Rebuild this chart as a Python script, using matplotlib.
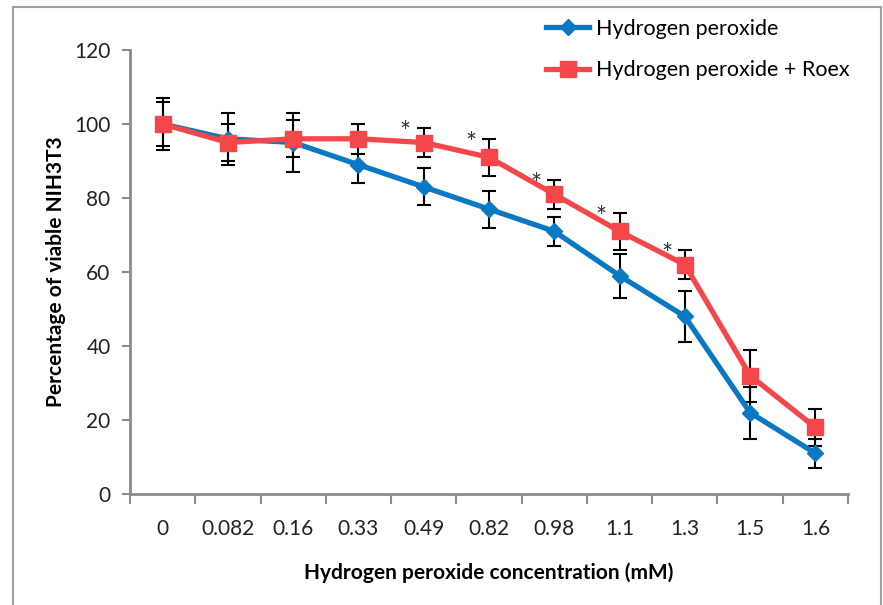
import matplotlib
matplotlib.use('Agg')
from matplotlib import pyplot as plt
from matplotlib.patches import Rectangle

plt.rcParams['font.family'] = ['Lato', 'DejaVu Sans']

concentracoes = ['0', '0.082', '0.16', '0.33', '0.49', '0.82', '0.98', '1.1', '1.3', '1.5', '1.6']
h2o2 = [100, 96, 95, 89, 83, 77, 71, 59, 48, 22, 11]
h2o2_erro = [6, 7, 8, 5, 5, 5, 4, 6, 7, 7, 4]
h2o2_roex = [100, 95, 96, 96, 95, 91, 81, 71, 62, 32, 18]
h2o2_roex_erro = [7, 5, 5, 4, 4, 5, 4, 5, 4, 7, 5]
significativos = [4, 5, 6, 7, 8]

azul = '#0a78c2'
vermelho = '#f4474a'
cinza = '#8c8c8c'

fig = plt.figure(figsize=(8.83, 6.05), dpi=100)
ax = fig.add_axes([130/883, 1 - 494/605, (848 - 130)/883, (494 - 50)/605])

x = list(range(len(concentracoes)))

ax.errorbar(x, h2o2, yerr=h2o2_erro, fmt='none', ecolor='black', elinewidth=1.5,
            capsize=5, capthick=1.5, zorder=2)
ax.errorbar(x, h2o2_roex, yerr=h2o2_roex_erro, fmt='none', ecolor='black', elinewidth=1.5,
            capsize=5, capthick=1.5, zorder=2)
ax.plot(x, h2o2, color=azul, lw=3.8, marker='D', ms=8, label='Hydrogen peroxide', zorder=3)
ax.plot(x, h2o2_roex, color=vermelho, lw=3.8, marker='s', ms=12, label='Hydrogen peroxide + Roex', zorder=4)

# asteriscos de significancia
for i in significativos:
    ax.text(i - 0.28, h2o2_roex[i] + h2o2_roex_erro[i] - 1.5, '*', fontsize=19,
            ha='center', va='center', color='#333333', zorder=5)

ax.set_xlim(-0.5, len(concentracoes) - 0.5)
ax.set_ylim(0, 120)
ax.set_yticks(range(0, 121, 20))
ax.set_xticks([i - 0.5 for i in range(len(concentracoes) + 1)])
ax.set_xticklabels([])
ax.set_xticks(x, minor=True)
ax.set_xticklabels(concentracoes, minor=True)
ax.tick_params(axis='x', which='major', length=7, width=1.5, color=cinza, direction='out')
ax.tick_params(axis='x', which='minor', length=0, pad=18, labelsize=15, labelcolor='#222222')
ax.tick_params(axis='y', length=6, width=1.5, color=cinza, labelsize=15, labelcolor='#222222', pad=8)

for lado in ['top', 'right']:
    ax.spines[lado].set_visible(False)
for lado in ['left', 'bottom']:
    ax.spines[lado].set_color(cinza)
    ax.spines[lado].set_linewidth(2)

ax.set_xlabel('Hydrogen peroxide concentration (mM)', fontsize=15, fontweight='bold', labelpad=17)
ax.set_ylabel('Percentage of viable NIH3T3', fontsize=15, fontweight='bold', labelpad=6)

fig.legend(loc='upper left', bbox_to_anchor=(546/883, 1 - 19/605), frameon=False,
           borderpad=0, borderaxespad=0,
           fontsize=15.5, handlelength=2.0, labelspacing=0.98, handletextpad=0.3)

fig.patches.append(Rectangle((13/883, -0.01), 868/883, 1 - 7/605 + 0.01, transform=fig.transFigure,
                             fill=False, edgecolor='#a0a0a0', lw=1.5))

fig.savefig('out.png', dpi=100)
